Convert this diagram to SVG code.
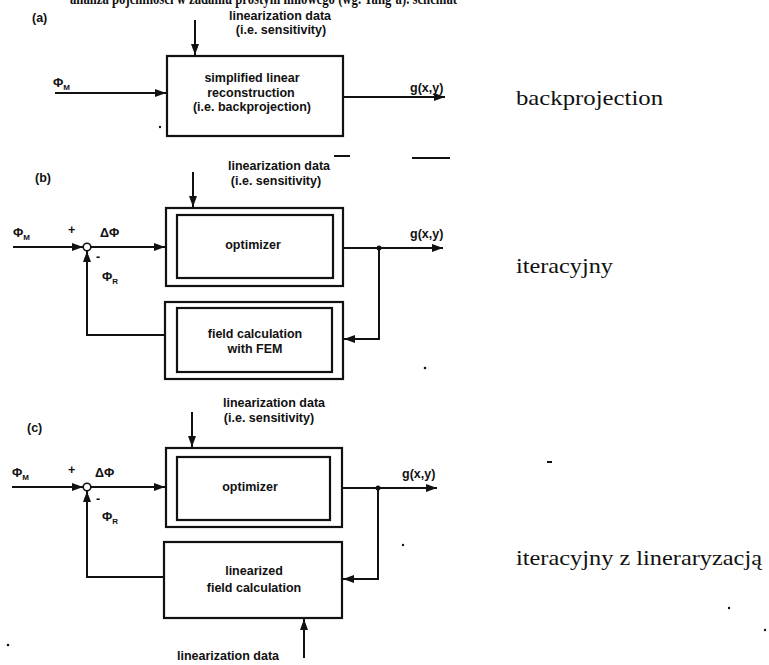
<svg xmlns="http://www.w3.org/2000/svg" width="769" height="665" viewBox="0 0 769 665">
<defs>
<marker id="ah" markerUnits="userSpaceOnUse" markerWidth="11" markerHeight="8" refX="11" refY="4" orient="auto">
<path d="M0,0 L11,4 L0,8 z" fill="#111"/>
</marker>
<style>
.box{fill:none;stroke:#111;stroke-width:2.2}
.ln{fill:none;stroke:#111;stroke-width:2}
.t{font-family:"Liberation Sans",Arial,sans-serif;font-weight:bold;font-size:12.5px;fill:#111}
.c{text-anchor:middle}
.s{font-family:"Liberation Serif","Times New Roman",serif;font-size:21px;fill:#111}
.sub{font-size:8px}
.hd{font-family:"Liberation Serif","Times New Roman",serif;font-weight:bold;font-size:17px;fill:#111}
</style>
</defs>
<rect width="769" height="665" fill="#fff"/>

<text class="hd" x="70" y="4" textLength="387" lengthAdjust="spacingAndGlyphs">analiza pojemności w zadaniu prostym liniowego (wg. Yang’a). schemat</text>

<g id="labels">
<text class="t" x="32" y="22" font-size="14">(a)</text>
<text class="t" x="35" y="182" font-size="14">(b)</text>
<text class="t" x="27" y="432" font-size="14">(c)</text>
<text class="s" x="516" y="105" textLength="147" lengthAdjust="spacingAndGlyphs">backprojection</text>
<text class="s" x="516" y="273" textLength="97" lengthAdjust="spacingAndGlyphs">iteracyjny</text>
<text class="s" x="516" y="565" textLength="246" lengthAdjust="spacingAndGlyphs">iteracyjny z lineraryzacją</text>
</g>

<g id="a-input-labels">
<text class="t c" x="280" y="20">linearization data</text>
<text class="t c" x="281" y="34">(i.e. sensitivity)</text>
<text class="t" x="53" y="87">Φ<tspan class="sub" dy="3">M</tspan></text>
<text class="t" x="410" y="92">g(x,y)</text>
</g>

<g id="node-a-reconstruction">
<rect class="box" x="167" y="56" width="176" height="80"/>
<text class="t c" x="252" y="82">simplified linear</text>
<text class="t c" x="251" y="97">reconstruction</text>
<text class="t c" x="252" y="111">(i.e. backprojection)</text>
</g>

<g id="b-labels">
<text class="t c" x="279" y="170">linearization data</text>
<text class="t c" x="276" y="185">(i.e. sensitivity)</text>
<text class="t" x="13" y="237">Φ<tspan class="sub" dy="3">M</tspan></text>
<text class="t" x="68" y="234">+</text>
<text class="t" x="100" y="237">ΔΦ</text>
<text class="t" x="96" y="261">-</text>
<text class="t" x="102" y="281">Φ<tspan class="sub" dy="3">R</tspan></text>
<text class="t" x="410" y="238">g(x,y)</text>
</g>

<g id="node-b-optimizer">
<rect class="box" x="166" y="208" width="177" height="78"/>
<rect class="box" x="177" y="215" width="156" height="63"/>
<text class="t c" x="253" y="249">optimizer</text>
</g>

<g id="node-b-fem">
<rect class="box" x="165" y="302" width="178" height="77"/>
<rect class="box" x="177" y="308" width="155" height="64"/>
<text class="t c" x="255" y="338">field calculation</text>
<text class="t c" x="255" y="353">with FEM</text>
</g>

<g id="node-b-sum">
<circle cx="87" cy="247" r="3.8" fill="#fff" stroke="#111" stroke-width="1.6"/>
</g>

<g id="c-labels">
<text class="t c" x="274" y="407">linearization data</text>
<text class="t c" x="269" y="422">(i.e. sensitivity)</text>
<text class="t" x="12" y="477">Φ<tspan class="sub" dy="3">M</tspan></text>
<text class="t" x="68" y="474">+</text>
<text class="t" x="95" y="477">ΔΦ</text>
<text class="t" x="96" y="503">-</text>
<text class="t" x="102" y="521">Φ<tspan class="sub" dy="3">R</tspan></text>
<text class="t" x="402" y="478">g(x,y)</text>
<text class="t c" x="228" y="660">linearization data</text>
</g>

<g id="node-c-optimizer">
<rect class="box" x="166" y="448" width="176" height="79"/>
<rect class="box" x="177" y="457" width="153" height="63"/>
<text class="t c" x="250" y="491">optimizer</text>
</g>

<g id="node-c-linfield">
<rect class="box" x="164" y="542" width="178" height="76"/>
<text class="t c" x="254" y="575">linearized</text>
<text class="t c" x="254" y="592">field calculation</text>
</g>

<g id="node-c-sum">
<circle cx="87" cy="487" r="3.8" fill="#fff" stroke="#111" stroke-width="1.6"/>
</g>

<g id="connectors">
<path class="ln" d="M55,93 H166" marker-end="url(#ah)"/>
<path class="ln" d="M195,20 V55" marker-end="url(#ah)"/>
<path class="ln" d="M343,97 H445" marker-end="url(#ah)"/>

<path class="ln" d="M193,172 V207" marker-end="url(#ah)"/>
<path class="ln" d="M13,247 H83" marker-end="url(#ah)"/>
<path class="ln" d="M91,247 H165" marker-end="url(#ah)"/>
<path class="ln" d="M343,248 H443" marker-end="url(#ah)"/>
<path class="ln" d="M379,248 V339 H344" marker-end="url(#ah)"/>
<path class="ln" d="M165,335 H87 V251" marker-end="url(#ah)"/>
<circle cx="379" cy="248" r="2.5" fill="#111"/>

<path class="ln" d="M192,412 V447" marker-end="url(#ah)"/>
<path class="ln" d="M12,487 H83" marker-end="url(#ah)"/>
<path class="ln" d="M91,487 H165" marker-end="url(#ah)"/>
<path class="ln" d="M342,488 H437" marker-end="url(#ah)"/>
<path class="ln" d="M378,488 V579 H343" marker-end="url(#ah)"/>
<path class="ln" d="M164,577 H87 V491" marker-end="url(#ah)"/>
<circle cx="378" cy="488" r="2.5" fill="#111"/>
<path class="ln" d="M304,658 V619" marker-end="url(#ah)"/>
</g>

<g id="specks" fill="#111">
<rect x="334" y="155" width="16" height="2"/>
<rect x="412" y="157" width="38" height="2"/>
<rect x="547" y="461" width="5" height="2"/>
<circle cx="425" cy="368" r="1.3"/>
<circle cx="403" cy="545" r="1.2"/>
<circle cx="8" cy="645" r="1.3"/>
<circle cx="729" cy="608" r="1.2"/>
<circle cx="765" cy="630" r="1.2"/>
<circle cx="160" cy="127" r="1.2"/>
</g>
</svg>
